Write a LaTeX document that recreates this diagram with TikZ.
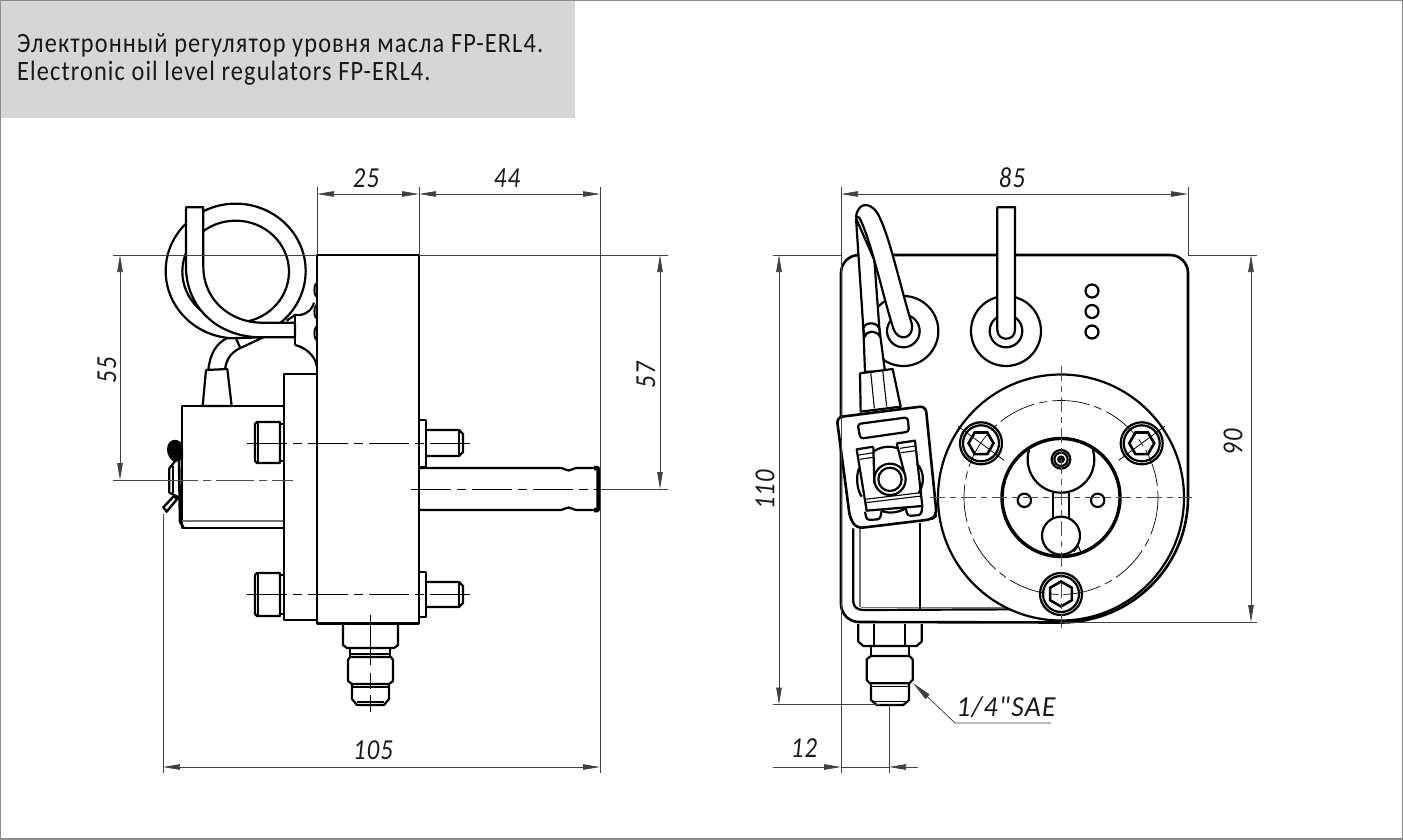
\documentclass[tikz,border=0pt]{standalone}
\usepackage{fontspec}
\setmainfont{Carlito}
\newfontfamily\lblfont[FakeStretch=0.85,LetterSpace=4]{Carlito}
\newfontfamily\hdfont[FakeStretch=0.87,LetterSpace=4]{Carlito}
\usetikzlibrary{arrows.meta,calc}
\definecolor{hdr}{HTML}{D6D6D6}
\definecolor{frm}{HTML}{8C8C8C}
\tikzset{
 ol/.style={line width=2.2pt,draw=black,line join=round},
 olb/.style={line width=3.4pt,draw=black},
 tn/.style={line width=1.1pt,draw=black,line join=round},
 wf/.style={fill=white},
 dimx/.style={line width=.75pt,draw=black!75},
 dimt/.style={line width=.75pt,draw=black!75,{Stealth[length=17pt,width=5.5pt,inset=0pt]}-{Stealth[length=17pt,width=5.5pt,inset=0pt]}},
 aro/.style={{Stealth[length=17pt,width=5.5pt,inset=0pt]}-},
 cl/.style={line width=.9pt,draw=black,dash pattern=on 40pt off 6pt on 9pt off 6pt},
 clf/.style={line width=.7pt,draw=black,dash pattern=on 38pt off 5pt on 8pt off 5pt},
 clg/.style={line width=1pt,draw=black!70,dash pattern=on 15pt off 5pt on 6pt off 5pt},
 lbl/.style={font=\lblfont\itshape\fontsize{29}{29}\selectfont,inner sep=0pt,text=black!90},
 hd/.style={font=\hdfont\fontsize{28}{28}\selectfont,inner sep=0pt,anchor=base west,text=black!90},
 zm/.style={x=.33333pt,y=-.33333pt}
}
\begin{document}
\begin{tikzpicture}[x=1pt,y=-1pt]
\useasboundingbox (0,0) rectangle (1403,840);
\fill[white] (0,0) rectangle (1403,840);
\fill[hdr] (1,1) rectangle (575,118);
\draw[frm,line width=1.6pt] (.5,.5) rectangle (1402.5,839);
\node[hd] (h1) at (17,53) {Электронный регулятор уровня масла FP-ERL4.};
\node[hd] (h2) at (17,81) {Electronic oil level regulators FP-ERL4.};

%% ---------- LEFT VIEW ----------
% coil
\begin{scope}[shift={(100,190)},zm]
 \draw[ol] (407,243) ellipse [x radius=210,y radius=202];
 \draw[ol] (407,245) ellipse [x radius=160,y radius=153];
 \draw[ol,wf] (258,52) -- (310,52) -- (310,230) .. controls (310,330) and (390,395) .. (480,398) -- (585,398) -- (585,442) -- (480,442) .. controls (350,440) and (258,350) .. (258,230) -- cycle;
 \draw[ol,wf] (325,540) .. controls (330,490) and (350,460) .. (380,445) -- (490,442) -- (430,470) .. controls (400,482) and (380,500) .. (375,538);
 \draw[ol] (408,445) -- (420,472);
 \draw[ol] (585,375) -- (585,465);
 \draw[ol] (560,392) -- (585,375) .. controls (610,378) and (635,365) .. (642,338);
 \draw[ol] (585,465) .. controls (615,472) and (645,495) .. (650,528);
 \foreach \yy in {300,365,430}{\draw[ol,line width=1.8pt,fill=black!30] (652,\yy) ellipse [x radius=9,y radius=21];}
 \draw[ol,wf] (318,540) -- (382,537) -- (395,648) -- (308,648) -- cycle;
\end{scope}
% plate, box and body
\draw[ol] (284,406) rectangle (182,528);
\draw[tn,black!55] (182,521) -- (284,521);
\draw[ol] (284,374) rectangle (317,620);
\draw[ol,wf] (317,255) rectangle (419,623.5);
% sensor rod
\draw[ol] (419,468) -- (560,468) .. controls (564,468) and (565,470.5) .. (568.5,470.5) .. controls (572,470.5) and (573,468) .. (577,468) -- (595,468);
\draw[ol] (419,510) -- (560,510) .. controls (564,510) and (565,507.5) .. (568.5,507.5) .. controls (572,507.5) and (573,510) .. (577,510) -- (595,510);
\draw[line width=4.5pt,rounded corners=1.5pt] (594,468) -- (598.5,468) -- (598.5,510) -- (594,510);
% left screw heads
\foreach \a/\b in {422/463,573/616}{
 \draw[ol] (280,\a) -- (257,\a) -- (255,{\a+2}) -- (255,{\b-2}) -- (257,\b) -- (280,\b) -- cycle;
 \draw[tn] (258,\a) -- (258,\b);
 \draw[ol] (280,{\a+2}) -- (284,{\a+2}) (280,{\b-2}) -- (284,{\b-2});
}
% right studs
\draw[ol] (419,420) -- (426,420) -- (426,467) -- (419,467);
\draw[ol] (426,430) -- (459,430) -- (463,434) -- (463,452) -- (459,456) -- (426,456);
\draw[tn] (459,430) -- (459,456);
\draw[ol] (419,572) -- (426,572) -- (426,617) -- (419,617);
\draw[ol] (426,582) -- (459,582) -- (463,586) -- (463,603) -- (459,607) -- (426,607);
\draw[tn] (459,582) -- (459,607);
% clip
\begin{scope}[shift={(155,430)},zm]
 \fill[black] (36,58) .. controls (36,20) and (84,20) .. (84,58) -- (84,85) -- (60,98) .. controls (45,88) and (36,75) .. (36,58) -- cycle;
 \draw[ol,line width=2.6pt] (72,75) -- (75,275) -- (85,292);
 \draw[ol] (58,96) -- (43,115) -- (43,188) -- (72,202);
 \draw[ol] (55,108) -- (55,190);
 \draw[ol,line width=2.4pt] (25,232) -- (55,200) -- (68,205) -- (35,245) -- cycle;
\end{scope}
% fitting
\draw[ol] (343,623) -- (343,645) -- (347,648) -- (394,648) -- (398,645) -- (398,623);
\draw[ol] (350,648) -- (350,657) (390,648) -- (390,657);
\draw[tn] (350,654) -- (390,654);
\draw[ol] (350,657) -- (391,657) -- (393,660) -- (393,681) -- (389,684) -- (352,684) -- (348,681) -- (348,660) -- cycle;
\draw[ol] (352,684) -- (352,699) -- (357,705) -- (384,705) -- (389,699) -- (389,684);
\draw[tn] (352,687) -- (389,687) (357,702) -- (384,702);
% centre lines
\draw[cl] (247,443) -- (472,443);
\draw[cl] (247,594) -- (472,594);
\draw[cl] (411,489) -- (600,489);
\draw[clf,black!70] (160,480) -- (293,480);
\draw[line width=.9pt,dash pattern=on 50pt off 8pt on 16pt off 6pt] (370,615) -- (370,712);
% dims left
\draw[dimx] (317,255) -- (317,187);
\draw[dimx] (419,255) -- (419,187);
\draw[dimx] (600,468) -- (600,773);
\draw[dimx] (600,468) -- (600,187);
\draw[dimt] (317,194) -- (419,194);
\draw[dimt] (419,194) -- (600,194);
\node[lbl] (d25) at (366,178) {25};
\node[lbl] (d44) at (507,178) {44};
\draw[dimx] (113,255) -- (317,255);
\draw[dimx] (113,480) -- (160,480);
\draw[dimt] (120,255) -- (120,480);
\node[lbl,rotate=90] (d55) at (107,370) {55};
\draw[dimx] (419,255) -- (668,255);
\draw[dimx] (600,489) -- (668,489);
\draw[dimt] (660,255) -- (660,489);
\node[lbl,rotate=90] (d57) at (646,375) {57};
\draw[dimx] (163,514) -- (163,773);
\draw[dimt] (163,767) -- (600,767);
\node[lbl] (d105) at (373,750) {105};

%% ---------- RIGHT VIEW ----------
\draw[ol,line width=2.6pt] (841,273) .. controls (841,263) and (849,255) .. (859,255) -- (1170,255) .. controls (1180,255) and (1188,263) .. (1188,273) -- (1188,497.5) arc[start angle=0,end angle=90,x radius=127,y radius=125] -- (859,622) .. controls (849,622) and (841,614) .. (841,604) -- cycle;
% sensor box behind the plug
\begin{scope}[shift={(770,510)},zm]
 \draw[ol] (250,55) -- (250,275) .. controls (250,290) and (262,300) .. (280,300) -- (720,298);
 \draw[tn,black!55] (270,55) -- (270,290) (272,293) -- (720,293);
 \draw[ol,line width=1.5pt] (450,40) -- (450,300);
\end{scope}
% indicator holes
\draw[ol] (1092,291) circle[radius=6.5];
\draw[ol] (1092,311.5) circle[radius=6.5];
\draw[ol] (1092,332) circle[radius=6.5];
% disc
\draw[ol,wf] (1061,497.5) circle[radius=123];
\draw[olb] (1061,497.5) circle[radius=59];
\begin{scope}[shift={(930,370)},zm]
 \draw[ol] (297.4,238.8) arc[start angle=197,end angle=-17,radius=100];
 \draw[ol,wf] (393,268) circle[radius=28];
 \draw[ol] (393,268) circle[radius=20];
 \fill[black] (393,268) circle[radius=12];
 \draw[ol] (283,391) circle[radius=20];
 \draw[ol] (503,391) circle[radius=20];
 \draw[ol] (368,368) -- (368,445) (418,368) -- (418,445);
 \draw[ol,wf] (393,497) circle[radius=57];
 \draw[tn] (432,545) -- (445,528) -- (452,545);
\end{scope}
% bolts
\foreach \px/\py/\rr in {981/443.3/0,1141.7/443.3/0,1061/594/30}{
 \draw[ol,wf] (\px,\py) circle[radius=21];
 \draw[ol] (\px,\py) circle[radius=18];
 \draw[line width=2.6pt,rotate around={\rr:(\px,\py)}] ($(\px,\py)+(0:12.5)$) \foreach \aa in {60,120,...,300}{ -- ($(\px,\py)+(\aa:12.5)$)} -- cycle;
}
\draw[clf] (1061,497.5) circle[radius=97];
% ports
\begin{scope}[shift={(830,195)},zm]
 \draw[ol,wf] (220,408) circle[radius=105];
 \draw[ol] (220,408) circle[radius=49];
 \draw[ol,wf] (528,408) circle[radius=105];
 \draw[ol] (528,408) circle[radius=49];
 \draw[ol,wf] (502,37) -- (555,37) -- (555,405) .. controls (555,440) and (502,440) .. (502,405) -- cycle;
 % left cable
 \draw[ol,wf] (78,70) -- (100,400) -- (105,530) -- (165,530) -- (148,400) -- (133,195) -- cycle;
 \draw[ol,wf] (245,385) .. controls (215,290) and (180,130) .. (150,70) .. controls (130,20) and (85,15) .. (78,65) -- (88,68) .. controls (125,140) and (160,310) .. (190,400) .. controls (205,445) and (255,430) .. (245,385) -- cycle;
 \draw[ol,wf] (100,400) .. controls (105,380) and (140,380) .. (148,400) -- (150,425) .. controls (140,405) and (110,405) .. (105,425) -- cycle;
 \draw[ol,wf] (90,535) -- (188,522) -- (212,635) -- (92,650) -- cycle;
 \draw[tn] (122,530) -- (133,640) (158,525) -- (170,635);
\end{scope}
% plug
\begin{scope}[shift={(835,400)},zm]
 \draw[ol,line width=2.6pt,wf,rounded corners=6pt] (5,52) -- (272,18) -- (305,345) -- (290,358) -- (65,385) -- (45,355) -- cycle;
 \draw[ol,rounded corners=3pt] (68,72) -- (218,52) -- (222,95) -- (76,116) -- cycle;
 \draw[ol] (72,205) .. controls (62,230) and (66,270) .. (80,290);
 \draw[ol] (245,190) .. controls (270,215) and (268,255) .. (250,280);
 \draw[ol] (115,155) .. controls (135,140) and (165,136) .. (188,145);
 \draw[ol] (115,140) -- (65,148) -- (95,332) -- (262,318) -- (240,122) -- (185,130);
 \draw[ol] (115,140) -- (118,250) (185,130) -- (207,215);
 \draw[tn] (72,165) -- (115,158) (74,178) -- (115,172) (195,145) -- (240,138) (197,158) -- (242,152);
 \draw[tn] (90,298) -- (258,278) (92,308) -- (259,288);
 \draw[ol,wf] (165,238) circle[radius=47];
 \draw[ol] (165,238) circle[radius=35];
 \draw[ol,rounded corners=3pt] (90,335) -- (95,360) -- (135,358) -- (140,332);
 \draw[ol,rounded corners=3pt] (212,325) -- (218,348) -- (258,345) -- (262,320);
 \draw[ol] (140,332) .. controls (160,342) and (190,338) .. (212,325);
\end{scope}
% fitting
\begin{scope}[shift={(770,510)},zm]
 \draw[ol] (265,342) -- (265,395) -- (280,408) -- (440,408) -- (455,395) -- (455,342);
 \draw[ol] (312,342) -- (312,405) (405,342) -- (405,405);
 \draw[ol] (302,408) -- (302,438) (418,408) -- (418,438);
 \draw[ol] (302,438) -- (418,438) -- (428,448) -- (428,510) -- (418,520) -- (300,520) -- (290,510) -- (290,448) -- cycle;
 \draw[ol] (303,520) -- (303,570) -- (320,585) -- (400,585) -- (417,570) -- (417,520);
 \draw[tn] (303,530) -- (417,530) (308,575) -- (412,575);
\end{scope}
% centre lines
\draw[clg] (930,497.5) -- (1192,497.5);
\draw[clg] (1061,366) -- (1061,628);
\foreach \px/\py/\sx in {981/443.3/-1,1141.7/443.3/1}{
 \draw[line width=.8pt] ($(\px,\py)+({\sx*23},-17)$) -- ($(\px,\py)+({-\sx*23},17)$);
}
% dims right
\draw[dimx] (841,187) -- (841,773);
\draw[dimx] (1188,187) -- (1188,255);
\draw[dimt] (841,194) -- (1188,194);
\node[lbl] (d85) at (1012,178) {85};
\draw[dimx] (1188,255) -- (1257,255);
\draw[dimx] (1060,622) -- (1257,622);
\draw[dimt] (1251,255) -- (1251,622);
\node[lbl,rotate=90] (d90) at (1233,442) {90};
\draw[dimx] (773,255) -- (841,255);
\draw[dimx] (773,704.5) -- (880,704.5);
\draw[dimt] (779,255) -- (779,704.5);
\node[lbl,rotate=90] (d110) at (765,490) {110};
\draw[dimx] (889,705) -- (889,773);
\draw[dimx,aro] (841,767) -- (773,767);
\draw[dimx,aro] (889,767) -- (918,767);
\draw[dimx] (841,767) -- (889,767);
\node[lbl] (d12) at (804,748) {12};
\draw[dimx,{Stealth[length=20pt,width=6pt,inset=0pt]}-] (913,683) -- (955,723) -- (1051,723);
\node[lbl,xscale=1.12] (sae) at (1006,707) {1/4"SAE};
\end{tikzpicture}
\end{document}
